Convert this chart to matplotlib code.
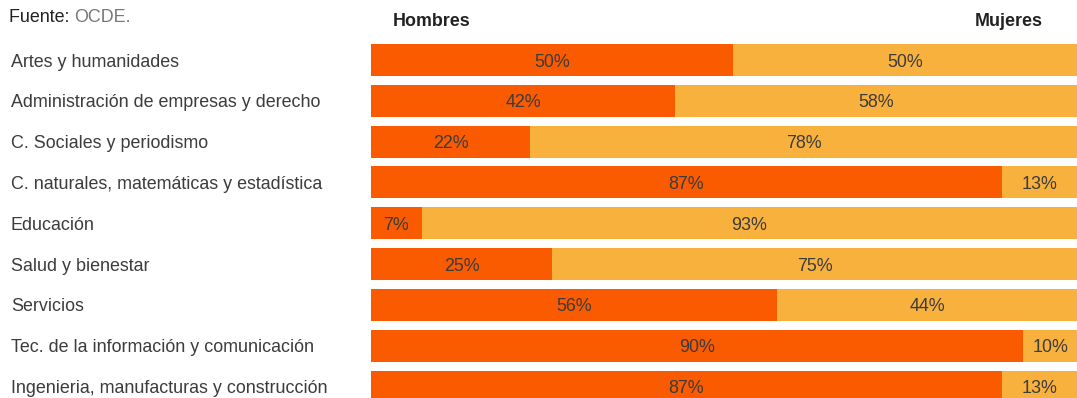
import matplotlib.pyplot as plt
from matplotlib import transforms

categorias = [
    "Artes y humanidades",
    "Administración de empresas y derecho",
    "C. Sociales y periodismo",
    "C. naturales, matemáticas y estadística",
    "Educación",
    "Salud y bienestar",
    "Servicios",
    "Tec. de la información y comunicación",
    "Ingenieria, manufacturas y construcción",
]
hombres = [50, 42, 22, 87, 7, 25, 56, 90, 87]
mujeres = [50, 58, 78, 13, 93, 75, 44, 10, 13]

C_HOMBRES = "#fa5a00"
C_MUJERES = "#f9b13e"
TXT = "#3c3c3c"

plt.rcParams["font.family"] = ["Liberation Sans", "DejaVu Sans"]

W, H = 1077, 398
fig = plt.figure(figsize=(W / 100, H / 100), dpi=100)
# bars area: starts at x=371 px, runs to the right edge
ax = fig.add_axes([371 / W, 0, 1 - 371 / W, 1])
ax.axis("off")

xmax = 97.4  # visible part of the 100% bar
ax.set_xlim(0, xmax)
ax.set_ylim(8.28, -1.47)

y = list(range(len(categorias)))
ax.barh(y, hombres, height=0.784, color=C_HOMBRES, linewidth=0)
ax.barh(y, mujeres, left=hombres, height=0.784, color=C_MUJERES, linewidth=0)

fs = 12.9
dy = 0.05  # text sits a touch below the bar centre
for i, (h, m) in enumerate(zip(hombres, mujeres)):
    ax.text(h / 2, i + dy, f"{h}%", ha="center", va="center", fontsize=fs,
            color=TXT)
    ax.text((h + xmax) / 2, i + dy, f"{m}%", ha="center", va="center",
            fontsize=fs, color=TXT)

trans = transforms.blended_transform_factory(fig.transFigure, ax.transData)
for i, c in enumerate(categorias):
    fig.text(11 / W, i + dy, c, transform=trans, ha="left", va="center",
             fontsize=fs, color=TXT)

fig.text(432 / W, 1 - 21 / H, "Hombres", ha="center", va="center",
         fontsize=fs, fontweight="bold", color="#222222")
fig.text(1043 / W, 1 - 21 / H, "Mujeres", ha="right", va="center",
         fontsize=fs, fontweight="bold", color="#222222")

t = fig.text(9 / W, 1 - 17 / H, "Fuente: ", ha="left", va="center",
             fontsize=fs, color="#222222")
fig.canvas.draw()
bb = t.get_window_extent()
fig.text(bb.x1 / W, 1 - 17 / H, "OCDE.", ha="left", va="center",
         fontsize=fs, color="#777777")

fig.savefig("out.png", dpi=100)
